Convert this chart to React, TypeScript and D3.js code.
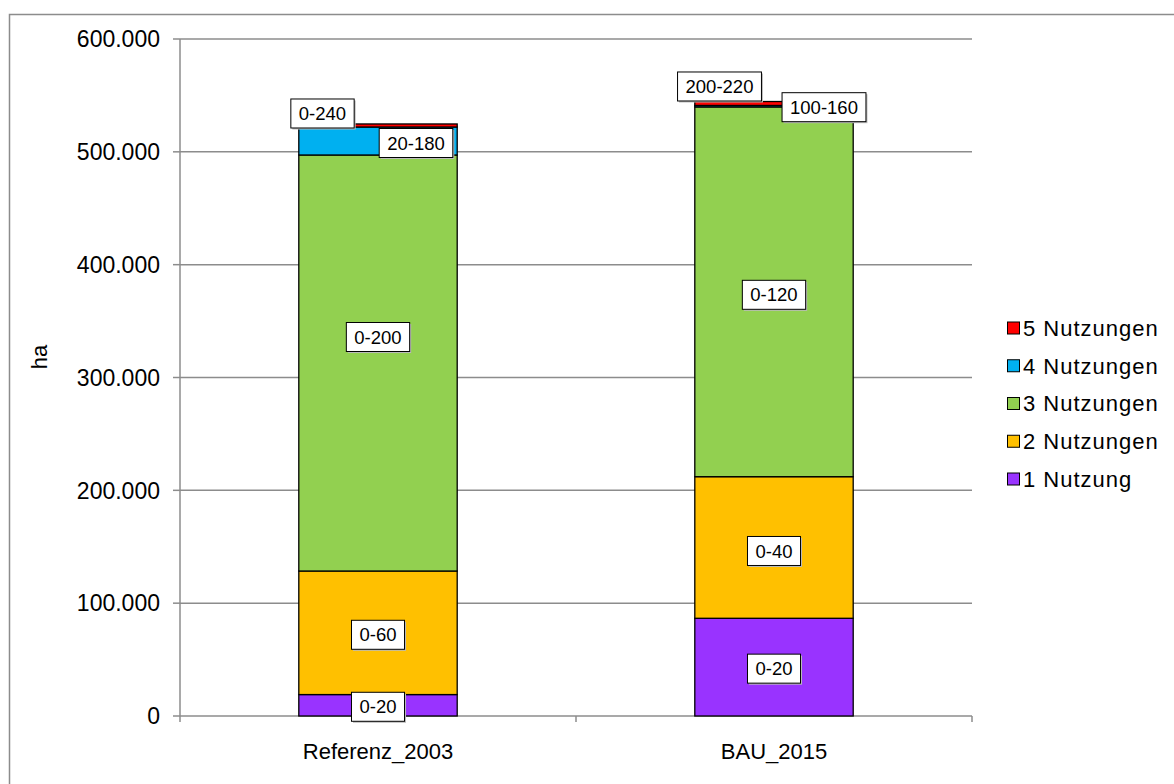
import React, { useEffect, useRef } from "react";
import * as d3 from "d3";

const categories = ["Referenz_2003", "BAU_2015"];
const seriesNames = ["1 Nutzung", "2 Nutzungen", "3 Nutzungen", "4 Nutzungen", "5 Nutzungen"];
const values1 = [19000, 86600];
const values2 = [109500, 125500];
const values3 = [368700, 327700];
const values4 = [24800, 1300];
const values5 = [2700, 3500];
const labels1 = ["0-20", "0-20"];
const labels2 = ["0-60", "0-40"];
const labels3 = ["0-200", "0-120"];
const labels4 = ["20-180", "100-160"];
const labels5 = ["0-240", "200-220"];
const yTicks = [0, 100000, 200000, 300000, 400000, 500000, 600000];

const colors = ["#9933ff", "#ffc000", "#92d050", "#00b0f0", "#ff0000"];
// label offsets [dx, dy] from segment centre, per series, per category
const labelOffsets = [
  [[0, 1.5], [0, 1.5]],
  [[0, 2], [0, 3.5]],
  [[0, -26], [0, 3]],
  [[38, 2], [50, 1]],
  [[-55.5, -12], [-54.5, -17]],
];

const FONT = "Arial, 'Liberation Sans', sans-serif";

export default function App() {
  const ref = useRef<SVGSVGElement>(null);
  useEffect(() => {
    const svg = d3.select(ref.current);
    svg.selectAll("*").remove();
    const W = 1174, H = 784;
    const left = 180, right = 972, top = 39, bottom = 716;

    svg.append("rect").attr("x", 9.5).attr("y", 14.5).attr("width", W + 20).attr("height", H + 20)
      .attr("fill", "white").attr("stroke", "#8c8c8c").attr("stroke-width", 1.5);

    const x = d3.scaleBand().domain(categories).range([left, right]).paddingInner(0.6).paddingOuter(0.3);
    const xb = d3.scaleBand().domain(categories).range([left, right]);
    const y = d3.scaleLinear().domain([0, 600000]).range([bottom, top]);
    const loc = d3.formatLocale({ decimal: ",", thousands: ".", grouping: [3], currency: ["", "€"] });
    const fmt = loc.format(",d");

    // gridlines
    svg.append("g").selectAll("line").data(yTicks.filter(t => t > 0)).join("line")
      .attr("x1", left).attr("x2", right).attr("y1", d => y(d)).attr("y2", d => y(d))
      .attr("stroke", "#8c8c8c").attr("stroke-width", 1.5);

    // y axis
    svg.append("line").attr("x1", left).attr("x2", left).attr("y1", top).attr("y2", bottom)
      .attr("stroke", "#8c8c8c").attr("stroke-width", 1.5);
    svg.append("g").selectAll("line").data(yTicks).join("line")
      .attr("x1", left - 7).attr("x2", left).attr("y1", d => y(d)).attr("y2", d => y(d))
      .attr("stroke", "#8c8c8c").attr("stroke-width", 1.5);
    svg.append("g").selectAll("text").data(yTicks).join("text")
      .attr("x", left - 20).attr("y", d => y(d)).attr("dy", "0.36em")
      .attr("text-anchor", "end").attr("font-family", FONT).attr("font-size", 23)
      .attr("fill", "#000").text(d => fmt(d));

    svg.append("text").attr("transform", `translate(47,357) rotate(-90)`)
      .attr("text-anchor", "middle").attr("font-family", FONT).attr("font-size", 22)
      .text("ha");

    // stacked bars
    const allValues = [values1, values2, values3, values4, values5];
    const allLabels = [labels1, labels2, labels3, labels4, labels5];
    const table = categories.map((c, i) => {
      const o: any = { cat: c };
      seriesNames.forEach((s, k) => (o[s] = allValues[k][i]));
      return o;
    });
    const stack = d3.stack().keys(seriesNames)(table);

    // x axis
    svg.append("line").attr("x1", left).attr("x2", right).attr("y1", bottom).attr("y2", bottom)
      .attr("stroke", "#8c8c8c").attr("stroke-width", 1.5);
    const xTickPos = [left, ...categories.map(c => (xb(c) as number) + xb.bandwidth())];
    svg.append("g").selectAll("line").data(xTickPos).join("line")
      .attr("x1", d => d).attr("x2", d => d).attr("y1", bottom).attr("y2", bottom + 6)
      .attr("stroke", "#8c8c8c").attr("stroke-width", 1.5);
    svg.append("g").selectAll("text").data(categories).join("text")
      .attr("x", d => (xb(d) as number) + xb.bandwidth() / 2).attr("y", 751).attr("dy", "0.36em")
      .attr("text-anchor", "middle").attr("font-family", FONT).attr("font-size", 22)
      .text(d => d);

    stack.forEach((layer, k) => {
      svg.append("g").selectAll("rect").data(layer).join("rect")
        .attr("x", (d: any) => x(d.data.cat) as number)
        .attr("width", x.bandwidth())
        .attr("y", d => y(d[1]))
        .attr("height", d => y(d[0]) - y(d[1]))
        .attr("fill", colors[k]).attr("stroke", "#000").attr("stroke-width", 1.3);
    });

    // labels
    stack.forEach((layer, k) => {
      layer.forEach((d: any, i) => {
        const cx = (x(d.data.cat) as number) + x.bandwidth() / 2 + labelOffsets[k][i][0];
        const cy = (y(d[0]) + y(d[1])) / 2 + labelOffsets[k][i][1];
        const g = svg.append("g");
        const rect = g.append("rect");
        const t = g.append("text").attr("x", cx).attr("y", cy).attr("dy", "0.36em")
          .attr("text-anchor", "middle").attr("font-family", FONT).attr("font-size", 18.5)
          .text(allLabels[k][i]);
        const bb = (t.node() as SVGTextElement).getBBox();
        const w = bb.width + 16, h = 29;
        g.insert("rect", "rect").attr("x", cx - w / 2 + 1.5).attr("y", cy - h / 2 + 1.5)
          .attr("width", w).attr("height", h).attr("fill", "#bbb");
        rect.attr("x", cx - w / 2).attr("y", cy - h / 2).attr("width", w).attr("height", h)
          .attr("fill", "white").attr("stroke", "#000").attr("stroke-width", 1);
      });
    });

    // legend
    const legendOrder = [4, 3, 2, 1, 0];
    const lg = svg.append("g");
    legendOrder.forEach((k, r) => {
      const cy = 328 + r * 37.75;
      lg.append("rect").attr("x", 1007.5).attr("y", cy - 6).attr("width", 12).attr("height", 12)
        .attr("fill", colors[k]).attr("stroke", "#000").attr("stroke-width", 1);
      lg.append("text").attr("x", 1023).attr("y", cy).attr("dy", "0.36em")
        .attr("font-family", FONT).attr("font-size", 22).attr("letter-spacing", 1)
        .text(seriesNames[k]);
    });
  }, []);
  return (
    <svg ref={ref} width={1174} height={784}
      style={{ position: "absolute", left: 0, top: 0, display: "block" }} />
  );
}
